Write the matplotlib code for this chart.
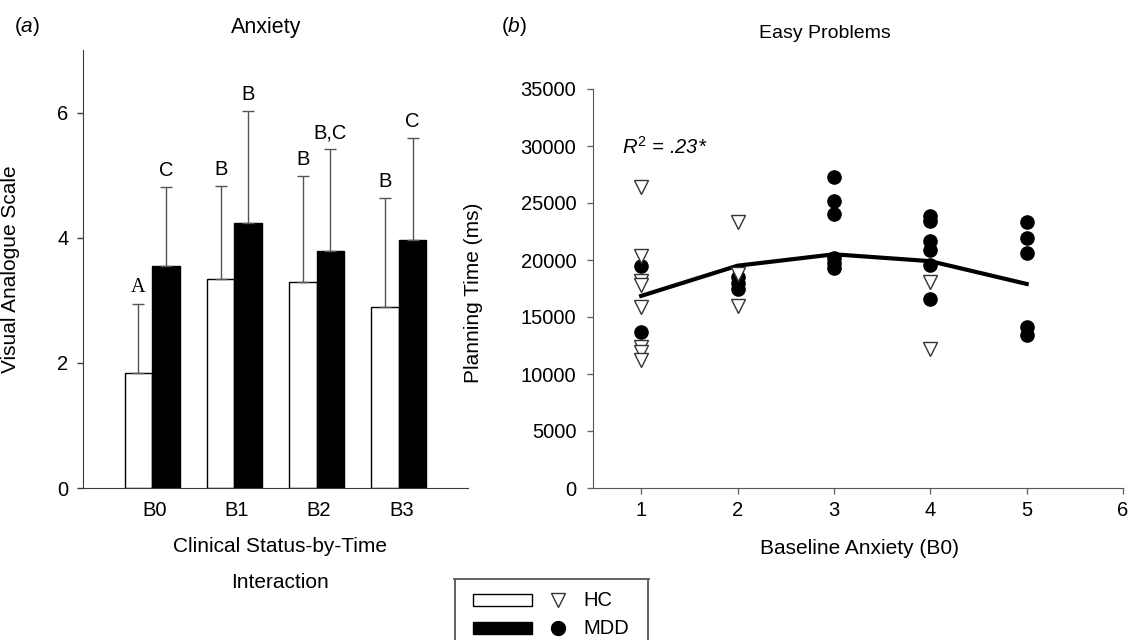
import matplotlib
matplotlib.use("Agg")
import matplotlib.pyplot as plt
from matplotlib.patches import Rectangle
import numpy as np

plt.rcParams["font.family"] = ["Liberation Sans", "DejaVu Sans"]
plt.rcParams["mathtext.fontset"] = "custom"
plt.rcParams["mathtext.rm"] = "Liberation Sans"
plt.rcParams["mathtext.it"] = "Liberation Sans:italic"

# ---------------------------------------------------------------------------
# Data: panel (a) anxiety by time point
# ---------------------------------------------------------------------------
TIMES = ["B0", "B1", "B2", "B3"]
HC_MEAN = [1.83, 3.34, 3.29, 2.90]
HC_TOP = [2.94, 4.83, 4.99, 4.63]          # mean + SD (upper whisker)
MDD_MEAN = [3.55, 4.24, 3.78, 3.97]
MDD_TOP = [4.81, 6.02, 5.41, 5.60]
HC_LETTERS = ["A", "B", "B", "B"]
MDD_LETTERS = ["C", "B", "B,C", "C"]

# ---------------------------------------------------------------------------
# Data: panel (b) planning time vs baseline anxiety
# ---------------------------------------------------------------------------
HC_X = [1, 1, 1, 1, 1, 1, 1, 1, 2, 2, 2, 4, 4]
HC_Y = [26400, 20350, 18200, 17800, 15900, 12400, 11900, 11200,
        23300, 18800, 16000, 18100, 12200]
MDD_X = [1, 1, 2, 2, 2, 3, 3, 3, 3, 3, 3,
         4, 4, 4, 4, 4, 4, 5, 5, 5, 5, 5]
MDD_Y = [19500, 13700, 18500, 18000, 17500, 27300, 25200, 24000, 20200, 19700, 19300,
         23900, 23400, 21700, 20900, 19600, 16600, 23300, 21900, 20600, 14100, 13400]
FIT_X = [1, 2, 3, 4, 5]
FIT_Y = [16850, 19500, 20500, 19900, 17900]

LEGEND_LABELS = ["HC", "MDD"]

AX_COLOR = "#3a3a3a"
ERR_COLOR = "#555555"
FS_TICK = 14.5
FS_LABEL = 15

fig = plt.figure(figsize=(11.31, 6.4), dpi=100)

# ---------------------------------------------------------------------------
# Panel (a)
# ---------------------------------------------------------------------------
ax1 = fig.add_axes([83 / 1131, 152 / 640, 385 / 1131, 438 / 640])
x = np.arange(len(TIMES))
w = 0.335
hc_err = [np.zeros(4), np.array(HC_TOP) - np.array(HC_MEAN)]
mdd_err = [np.zeros(4), np.array(MDD_TOP) - np.array(MDD_MEAN)]
ax1.bar(x - w / 2, HC_MEAN, w, color="white", edgecolor="black", linewidth=1.0,
        yerr=hc_err, capsize=4.3, error_kw=dict(ecolor=ERR_COLOR, elinewidth=1.0,
                                                 capthick=1.0), zorder=2)
ax1.bar(x + w / 2, MDD_MEAN, w, color="black", edgecolor="black", linewidth=1.0,
        yerr=mdd_err, capsize=4.3, error_kw=dict(ecolor=ERR_COLOR, elinewidth=1.0,
                                                  capthick=1.0), zorder=2)

for i in range(len(TIMES)):
    fam = ["Liberation Serif"] if HC_LETTERS[i] == "A" else ["Liberation Sans"]
    ax1.annotate(HC_LETTERS[i], (x[i] - w / 2, HC_TOP[i]), xytext=(0, 5),
                 textcoords="offset points", ha="center", va="bottom",
                 fontsize=FS_TICK, family=fam)
    ax1.annotate(MDD_LETTERS[i], (x[i] + w / 2, MDD_TOP[i]), xytext=(0, 5),
                 textcoords="offset points", ha="center", va="bottom",
                 fontsize=FS_TICK)

ax1.set_xlim(-0.84, 3.84)
ax1.set_ylim(0, 7)
ax1.set_yticks([0, 2, 4, 6])
ax1.set_xticks(x + 0.03)
ax1.set_xticklabels(TIMES)
ax1.tick_params(axis="x", length=0, pad=9, labelsize=FS_TICK)
ax1.tick_params(axis="y", length=4.5, width=1, color=AX_COLOR,
                labelsize=FS_TICK, pad=6)
for s in ["top", "right"]:
    ax1.spines[s].set_visible(False)
for s in ["left", "bottom"]:
    ax1.spines[s].set_color(AX_COLOR)
ax1.set_ylabel("Visual Analogue Scale", fontsize=FS_LABEL)
ax1.yaxis.set_label_coords(-0.164, 0.5)
ax1.text(0.512, (488 - 547) / 438, "Clinical Status-by-Time", transform=ax1.transAxes,
         fontsize=FS_LABEL, ha="center", va="center")
ax1.text(0.512, (488 - 583) / 438, "Interaction", transform=ax1.transAxes,
         fontsize=FS_LABEL, ha="center", va="center")
fig.text(14 / 1131, 1 - 27 / 640, "($\\mathit{a}$)", fontsize=FS_LABEL,
         va="center", ha="left")
fig.text(266 / 1131, 1 - 27 / 640, "Anxiety", fontsize=FS_LABEL + 0.5,
         va="center", ha="center")

# ---------------------------------------------------------------------------
# Panel (b)
# ---------------------------------------------------------------------------
ax2 = fig.add_axes([593 / 1131, 152 / 640, 530 / 1131, 399 / 640])
ax2.plot(FIT_X, FIT_Y, color="black", linewidth=3, zorder=3)
ax2.plot(MDD_X, MDD_Y, linestyle="none", marker="o", markersize=9.5,
         color="black", zorder=4)
ax2.plot(HC_X, HC_Y, linestyle="none", marker="v", markersize=10.5,
         markerfacecolor="white", markeredgecolor="#333333", markeredgewidth=1.0,
         zorder=5)
ax2.set_xlim(0.5, 6)
ax2.set_ylim(0, 35000)
ax2.set_xticks([1, 2, 3, 4, 5, 6])
ax2.set_yticks(np.arange(0, 35001, 5000))
ax2.tick_params(axis="both", length=4, width=1, color="#666666", labelsize=FS_TICK)
ax2.tick_params(axis="x", pad=5)
ax2.tick_params(axis="y", pad=8)
for s in ["top", "right"]:
    ax2.spines[s].set_visible(False)
for s in ["left", "bottom"]:
    ax2.spines[s].set_color("#555555")
ax2.set_ylabel("Planning Time (ms)", fontsize=FS_LABEL)
ax2.yaxis.set_label_coords(-0.208, 0.49)
ax2.set_xlabel("Baseline Anxiety (B0)", fontsize=FS_LABEL)
ax2.xaxis.set_label_coords(0.503, -0.128)
ax2.text(0.8, 29900, "$R^2$ = .23*", fontsize=FS_TICK, style="italic",
         va="center", ha="left")
fig.text(501 / 1131, 1 - 27 / 640, "($\\mathit{b}$)", fontsize=FS_LABEL,
         va="center", ha="left")
fig.text(825 / 1131, 1 - 34 / 640, "Easy Problems", fontsize=14, va="center",
         ha="center")

# ---------------------------------------------------------------------------
# Shared legend box (bar swatch + marker + label)
# ---------------------------------------------------------------------------
lax = fig.add_axes([454 / 1131, 0, 195 / 1131, 61 / 640])
lax.set_xlim(0, 195)
lax.set_ylim(0, 61)
lax.set_xticks([])
lax.set_yticks([])
for s in ["bottom", "left", "right"]:
    lax.spines[s].set_visible(False)
lax.spines["top"].set_color("#555555")
lax.spines["top"].set_linewidth(1.3)
lax.axvline(0.7, color="#555555", linewidth=1.3)
lax.axvline(194.3, color="#555555", linewidth=1.3)
row_y = [40, 12]
swatch = [("white", "black"), ("black", "black")]
markers = [dict(marker="v", markerfacecolor="white", markeredgecolor="#333333",
                markersize=10.5), dict(marker="o", color="black", markersize=10)]
for yy, (fc, ec), mk, lab in zip(row_y, swatch, markers, LEGEND_LABELS):
    lax.add_patch(Rectangle((19, yy - 6), 59, 12, facecolor=fc, edgecolor=ec,
                            linewidth=1.0))
    lax.plot([104], [yy], linestyle="none", **mk)
    lax.text(129, yy, lab, fontsize=FS_TICK, va="center", ha="left")

fig.savefig("out.png", dpi=100)
